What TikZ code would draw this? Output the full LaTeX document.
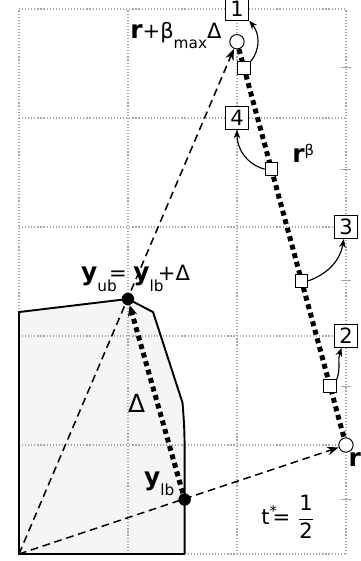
\documentclass[tikz,border=0pt]{standalone}
\usepackage{amsmath}
\usepackage{fontspec}
\setmainfont{DejaVu Sans}
\usepackage{tikz}
\usetikzlibrary{arrows.meta,calc,positioning,backgrounds}
\newcommand{\bvec}[1]{{\fontsize{13}{15}\selectfont\bfseries #1}}
\newcommand{\lsub}[2][1]{\raisebox{-5.5pt}{\makebox[#1\width][l]{\fontsize{8}{9}\selectfont #2}}}
\tikzstyle{origin} = [coordinate]
\tikzstyle{hollow} = [draw, circle, fill=white, inner sep=0pt, minimum size=7.5pt, line width=0.5pt]
\tikzstyle{bound} = [circle, fill=black, inner sep=0pt, minimum size=6.5pt]
\tikzstyle{probe} = [draw, rectangle, fill=white, inner sep=0pt, minimum size=6.5pt, line width=0.5pt]
\tikzstyle{tag} = [draw, rectangle, fill=white, inner xsep=2.6pt, inner ysep=1.8pt, line width=0.6pt, font=\fontsize{11}{13}\selectfont]
\tikzstyle{lbl} = [inner sep=0pt, font=\fontsize{11}{13}\selectfont]
\tikzstyle{ray} = [->, line width=0.8pt, dash pattern=on 4pt off 2.5pt]
\tikzstyle{walk} = [line width=2.6pt, dash pattern=on 2.6pt off 2pt]
\tikzstyle{hop} = [-{Stealth[length=4.5pt,width=3.5pt]}, line width=0.6pt]
\tikzstyle{gridline} = [gray!70, line width=0.6pt, dash pattern=on 0.6pt off 1pt]

\begin{document}
\begin{tikzpicture}[x=2cm, y=2cm, >={Stealth[length=6pt,width=4.5pt]}]
    \useasboundingbox (-0.174,-0.064) rectangle (3.138,5.083);
    % Define the nodes
    \node [origin] (O) at (0,0) {};
    \node [hollow] (r) at (3,1) {};
    \node [hollow] (rmax) at (2,4.7) {};
    \node [bound] (ub) at (1,2.34) {};
    \node [bound] (lb) at (1.52,0.5) {};
    \node [probe] (sq1) at ($(r)!0.935!(rmax)$) {};
    \node [probe] (sq2) at ($(r)!0.684!(rmax)$) {};
    \node [probe] (sq3) at ($(r)!0.407!(rmax)$) {};
    \node [probe] (sq4) at ($(r)!0.146!(rmax)$) {};
    \node [tag] (box1) at (2,5) {1};
    \node [tag] (box4) at (2,4) {4};
    \node [tag] (box3) at (3,3) {3};
    \node [tag] (box2) at (3,2) {2};
    % Labels
    \node [lbl, anchor=base east] (rmaxlabel) at (1.862,4.734) {\bvec{r}+β\lsub{max}Δ};
    \node [lbl, anchor=base] (ublabel) at (1.07,2.505) {\bvec{y}\lsub[0.6]{ub}= \bvec{y}\lsub[0.6]{lb}+Δ};
    \node [lbl, font=\fontsize{13}{15}\selectfont] (deltalabel) at (1.08,1.38) {Δ};
    \node [lbl, anchor=base east] (lblabel) at (1.43,0.633) {\bvec{y}\lsub{lb}};
    \node [lbl, anchor=base west] (rbetalabel) at (2.505,3.59) {\bvec{r}\textsuperscript{β}};
    \node [lbl] (tlabel) at (2.47,0.34) {t\textsuperscript{*}\kern-0.25em= $\dfrac{\text{1}}{\text{2}}$};
    \node [lbl, anchor=base west] (rlabel) at (3.02,0.80) {\bvec{r}};
    % Connect the nodes
    \begin{pgfonlayer}{background}
    \fill [gray!8] (O) -- (0,2.22) -- (ub.center) -- (1.23,2.22) -- (1.5,1.39)
        to[out=-85,in=90] (1.52,0.9) -- (lb.center) -- (1.52,0) -- cycle;
    \foreach \x in {0,...,3} \draw [gridline] (\x,0) -- (\x,5);
    \foreach \y in {0,...,5} \draw [gridline] (0,\y) -- (3,\y);
    \foreach \y in {0.5,1.54,2.51,3.53,4.46} \draw [gray!70, line width=0.6pt] (2.955,\y) -- (3.045,\y);
    \draw [line width=1pt] (1.52,0) -- (O) -- (0,2.22) -- (ub.center) -- (1.23,2.22) -- (1.5,1.39)
        to[out=-85,in=90] (1.52,0.9) -- (lb.center) -- (1.52,0);
    \draw [ray] (O) -- (r);
    \draw [ray] (O) -- (rmax);
    \draw [walk] (rmax) -- (r);
    \draw [walk, -{Stealth[length=5.5pt,width=5pt,line width=0.5pt]}] (lb) -- (ub);
    \end{pgfonlayer}
    \draw [hop] (sq1.north east) to[out=50,in=-50] (box1.south east);
    \draw [hop] (sq2.west) to[out=165,in=-90] (box4);
    \draw [hop] (sq3.east) to[out=20,in=-100] (box3);
    \draw [hop] (sq4.north east) to[out=70,in=-110] (box2);
\end{tikzpicture}
\end{document}
